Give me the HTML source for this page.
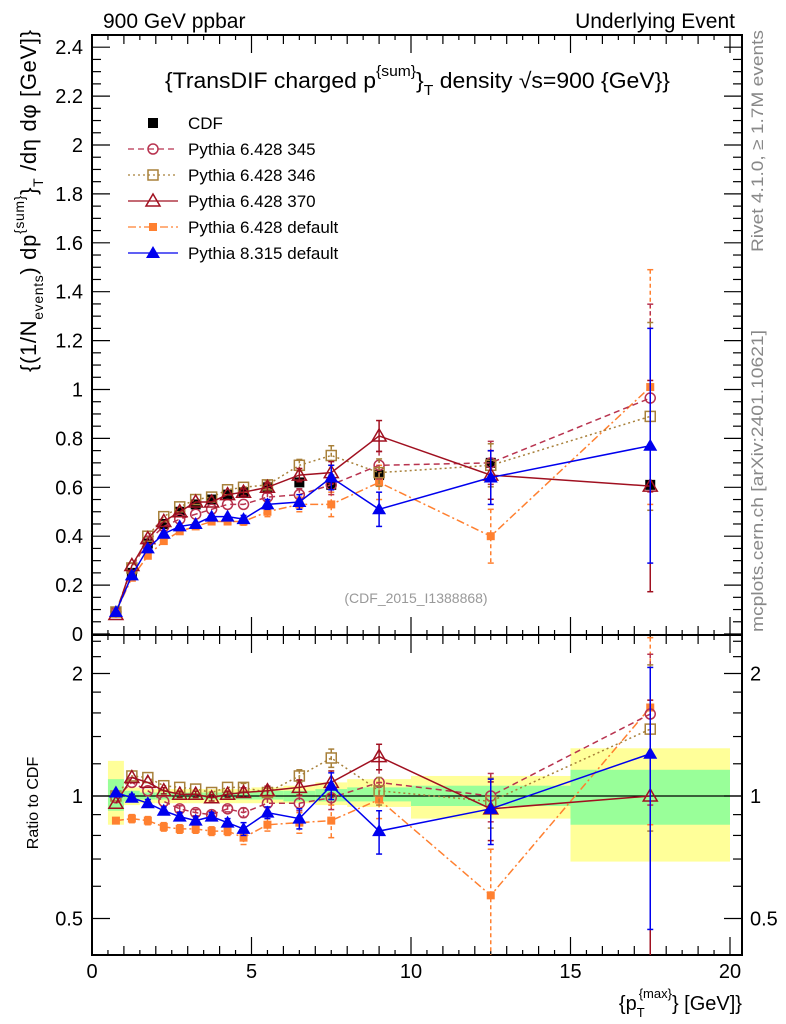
<!DOCTYPE html>
<html><head><meta charset="utf-8"><style>
body{margin:0;background:#fff;}
svg{display:block;font-family:"Liberation Sans",sans-serif;}
</style></head><body>
<svg id="chart" width="786" height="1024" viewBox="0 0 786 1024" xmlns="http://www.w3.org/2000/svg">
<text x="103" y="28" font-size="21">900 GeV ppbar</text>
<text x="735" y="28" font-size="21" text-anchor="end">Underlying Event</text>
<text x="165" y="88" font-size="22" textLength="505" lengthAdjust="spacingAndGlyphs">{TransDIF charged p<tspan dy="-12" font-size="15">{sum}</tspan><tspan dy="12">}</tspan><tspan dy="7" font-size="15">T</tspan><tspan dy="-7"> density √s=900 {GeV}}</tspan></text>
<text transform="translate(36,30) rotate(-90)" font-size="22" text-anchor="end" textLength="342" lengthAdjust="spacing">{(1/N<tspan dy="7" font-size="14">events</tspan><tspan dy="-7">) dp</tspan><tspan dy="-12" font-size="14">{sum}</tspan><tspan dy="12">}</tspan><tspan dy="7" font-size="14">T</tspan><tspan dy="-7"> /dη  dφ [GeV]}</tspan></text>
<text transform="translate(38,803) rotate(-90)" font-size="16" text-anchor="middle">Ratio to CDF</text>
<text x="742" y="1010" font-size="20" text-anchor="end">{p<tspan dy="7" font-size="13">T</tspan><tspan dy="-19" dx="-6" font-size="13">{max}</tspan><tspan dy="12">} [GeV]}</tspan></text>
<text transform="translate(763,30) rotate(-90)" font-size="17" fill="#888" text-anchor="end" textLength="222" lengthAdjust="spacingAndGlyphs">Rivet 4.1.0, ≥ 1.7M events</text>
<text transform="translate(763,632) rotate(-90)" font-size="17" fill="#888" textLength="302" lengthAdjust="spacingAndGlyphs">mcplots.cern.ch [arXiv:2401.10621]</text>
<text x="416" y="603" font-size="14" fill="#999" text-anchor="middle">(CDF_2015_I1388868)</text>
<g id="bands"></g><g id="axes"></g><g id="series"></g><g id="legend"></g>
</svg>
<script>
const xCenters=[0.75,1.25,1.75,2.25,2.75,3.25,3.75,4.25,4.75,5.5,6.5,7.5,9,12.5,17.5];
const xLow=[0.5,1,1.5,2,2.5,3,3.5,4,4.5,5,6,7,8,10,15];
const xHigh=[1,1.5,2,2.5,3,3.5,4,4.5,5,6,7,8,10,15,20];
const cdfVals=[0.09,0.25,0.37,0.45,0.50,0.53,0.55,0.57,0.58,0.60,0.62,0.61,0.65,0.70,0.61];
const bandYellowLo=[0.85,0.95,0.96,0.96,0.96,0.96,0.96,0.96,0.96,0.96,0.96,0.95,0.94,0.88,0.69];
const bandYellowHi=[1.22,1.05,1.04,1.04,1.04,1.04,1.04,1.04,1.04,1.05,1.06,1.08,1.1,1.12,1.31];
const bandGreenLo=[0.92,0.97,0.98,0.98,0.98,0.98,0.98,0.98,0.98,0.98,0.97,0.97,0.97,0.945,0.85];
const bandGreenHi=[1.1,1.03,1.02,1.02,1.02,1.02,1.02,1.02,1.02,1.03,1.03,1.04,1.05,1.06,1.16];
const p345=[0.09,0.27,0.38,0.44,0.47,0.49,0.51,0.53,0.53,0.56,0.57,0.61,0.69,0.70,0.965];
const p346=[0.09,0.27,0.40,0.48,0.52,0.55,0.56,0.59,0.60,0.61,0.69,0.73,0.66,0.69,0.89];
const p370=[0.08,0.28,0.39,0.46,0.50,0.54,0.54,0.57,0.58,0.60,0.65,0.66,0.81,0.65,0.605];
const pDef=[0.09,0.23,0.32,0.38,0.42,0.44,0.46,0.46,0.46,0.50,0.53,0.53,0.62,0.40,1.01];
const p8=[0.09,0.24,0.35,0.41,0.44,0.45,0.48,0.48,0.47,0.53,0.54,0.64,0.51,0.64,0.77];
const errs=[0.005,0.01,0.01,0.01,0.01,0.01,0.01,0.01,0.015,0.02,0.03,0.05,0.07,0.11,0.48];
const r345=[0.99,1.08,1.03,0.97,0.93,0.91,0.90,0.93,0.91,0.96,0.96,0.99,1.08,1.0,1.59];
const r346=[1.0,1.12,1.11,1.06,1.05,1.04,1.02,1.05,1.05,1.02,1.12,1.24,1.03,0.97,1.46];
const r370=[0.96,1.11,1.08,1.03,1.01,1.01,0.99,1.01,1.02,1.03,1.05,1.08,1.25,0.93,1.0];
const rDef=[0.87,0.88,0.87,0.84,0.83,0.83,0.82,0.82,0.79,0.85,0.86,0.87,0.98,0.57,1.65];
const r8=[1.02,0.99,0.96,0.92,0.89,0.87,0.89,0.86,0.83,0.91,0.88,1.06,0.82,0.93,1.27];
const ratioErrs=[0.01,0.02,0.02,0.02,0.02,0.02,0.02,0.02,0.03,0.03,0.05,0.08,0.1,0.17,0.8];
const yTicks=[0,0.2,0.4,0.6,0.8,1,1.2,1.4,1.6,1.8,2,2.2,2.4];
const yTickLabels=["0","0.2","0.4","0.6","0.8","1","1.2","1.4","1.6","1.8","2","2.2","2.4"];
const xTicks=[0,5,10,15,20];
const rTicks=[0.5,1,2];

const NS="http://www.w3.org/2000/svg";
const L=92,R=742,T=35,MB=635,RB=955;
const X=v=>92+v*31.9;
const Y=v=>634-v*244.5;
const RY=v=>796-Math.log2(v)*122.5;
function mk(tag,attrs,parent){const e=document.createElementNS(NS,tag);for(const k in attrs)e.setAttribute(k,attrs[k]);parent.appendChild(e);return e;}
const bands=document.getElementById('bands'),axes=document.getElementById('axes'),ser=document.getElementById('series'),leg=document.getElementById('legend');
const clipD=mk('defs',{},bands);
const c1=mk('clipPath',{id:'cm'},clipD);mk('rect',{x:L,y:T,width:R-L,height:MB-T},c1);
const c2=mk('clipPath',{id:'cr'},clipD);mk('rect',{x:L,y:MB,width:R-L,height:RB-MB},c2);
xLow.forEach((lo,i)=>{
 const y1=mk('rect',{x:X(lo),y:RY(bandYellowHi[i]),width:X(xHigh[i])-X(lo),height:RY(bandYellowLo[i])-RY(bandYellowHi[i]),fill:'#ffff99'},bands);
 
 
 const g1=mk('rect',{x:X(lo),y:RY(bandGreenHi[i]),width:X(xHigh[i])-X(lo),height:RY(bandGreenLo[i])-RY(bandGreenHi[i]),fill:'#99ff99'},bands);
 
 
});
mk('line',{x1:L,x2:R,y1:RY(1),y2:RY(1),stroke:'#000','stroke-width':1.3},bands);
const f1=mk('rect',{x:L,y:T,width:R-L,height:MB-T,fill:'none',stroke:'#000','stroke-width':2},axes);


const f2=mk('rect',{x:L,y:MB,width:R-L,height:RB-MB,fill:'none',stroke:'#000','stroke-width':2},axes);


for(let v=0;v<=20.3;v+=0.5){const maj=Math.abs(v%5)<1e-9,mid=Math.abs(v%1)<1e-9;const len=maj?18:(mid?9:5);
 [[T,1],[MB,-1],[MB,1],[RB,-1]].forEach(([y,d])=>mk('line',{x1:X(v),x2:X(v),y1:y,y2:y+d*len,stroke:'#000','stroke-width':1.2},axes));}
xTicks.forEach(v=>{const t=mk('text',{x:X(v),y:978,'font-size':20,'text-anchor':'middle'},axes);t.textContent=String(v);
 
 });
for(let v=0;v<=2.45;v+=0.05){const maj=Math.abs(v/0.2-Math.round(v/0.2))<1e-6;const len=maj?18:9;
 mk('line',{x1:L,x2:L+len,y1:Y(v),y2:Y(v),stroke:'#000','stroke-width':1.2},axes);
 mk('line',{x1:R,x2:R-len,y1:Y(v),y2:Y(v),stroke:'#000','stroke-width':1.2},axes);}
yTicks.forEach((v,i)=>{const t=mk('text',{x:83,y:Y(v)+7,'font-size':20,'text-anchor':'end'},axes);t.textContent=yTickLabels[i];
 
 });
const rMinor=[0.4,0.5,0.6,0.7,0.8,0.9,1,1.2,1.4,1.6,1.8,2,2.2,2.4];
rMinor.forEach(v=>{const y=RY(v);if(y<MB||y>RB)return;const maj=rTicks.includes(v);const len=maj?18:9;
 mk('line',{x1:L,x2:L+len,y1:y,y2:y,stroke:'#000','stroke-width':1.2},axes);
 mk('line',{x1:R,x2:R-len,y1:y,y2:y,stroke:'#000','stroke-width':1.2},axes);});
rTicks.forEach(v=>{const lbl=v===0.5?'0.5':String(v);
 const t=mk('text',{x:83,y:RY(v)+7,'font-size':20,'text-anchor':'end'},axes);t.textContent=lbl;
 
 
 const t2=mk('text',{x:750,y:RY(v)+7,'font-size':20},axes);t2.textContent=lbl;
 
 });
function marker(kind,color,x,y,parent){
 const s=kind;
 if(s==='fsq')return mk('rect',{x:x-5,y:y-5,width:10,height:10,fill:color},parent);
 if(s==='fsqs')return mk('rect',{x:x-4,y:y-4,width:8,height:8,fill:color},parent);
 if(s==='osq')return mk('rect',{x:x-5,y:y-5,width:10,height:10,fill:'none',stroke:color,'stroke-width':1.5},parent);
 if(s==='oc')return mk('circle',{cx:x,cy:y,r:5,fill:'none',stroke:color,'stroke-width':1.5},parent);
 if(s==='otri')return mk('polygon',{points:`${x},${y-7} ${x-7},${y+5} ${x+7},${y+5}`,fill:'none',stroke:color,'stroke-width':1.5},parent);
 if(s==='ftri')return mk('polygon',{points:`${x},${y-7} ${x-7},${y+5} ${x+7},${y+5}`,fill:color},parent);
}
const seriesDefs=[
 {name:'pythia-6428-default',label:'Pythia 6.428 default',main:pDef,ratio:rDef,color:'#ff8030',dash:'8,3,2,3',mk:'fsqs',ef:1},
 {name:'pythia-6428-345',label:'Pythia 6.428 345',main:p345,ratio:r345,color:'#b8334f',dash:'6,4',mk:'oc',ef:0.8},
 {name:'pythia-6428-346',label:'Pythia 6.428 346',main:p346,ratio:r346,color:'#a8803a',dash:'2,3',mk:'osq',ef:0.8},
 {name:'pythia-6428-370',label:'Pythia 6.428 370',main:p370,ratio:r370,color:'#a01020',dash:'',mk:'otri',ef:0.9},
 {name:'pythia-8315-default',label:'Pythia 8.315 default',main:p8,ratio:r8,color:'#0000ee',dash:'',mk:'ftri',ef:1}
];
function drawSeries(vals,errArr,ef,yf,clip,d,label){
 const g=mk('g',{'clip-path':`url(#${clip})`},ser);
 
 
 const pts=xCenters.map((x,i)=>`${X(x)},${yf(vals[i])}`).join(' ');
 const pl=mk('polyline',{points:pts,fill:'none',stroke:d.color,'stroke-width':1.5,'stroke-dasharray':d.dash},g);
 
 
 xCenters.forEach((x,i)=>{const e=errArr[i]*ef;
  const lo=label==='ratio'?Math.max(vals[i]-e,0.3):vals[i]-e;
  const y1=yf(vals[i]+e),y2=yf(lo);
  if(Math.abs(y2-y1)>6){mk('line',{x1:X(x),x2:X(x),y1:y1,y2:y2,stroke:d.color,'stroke-width':1.5,'stroke-dasharray':d.dash?'4,3':''},g);
   mk('line',{x1:X(x)-3,x2:X(x)+3,y1:y1,y2:y1,stroke:d.color,'stroke-width':1.5},g);
   mk('line',{x1:X(x)-3,x2:X(x)+3,y1:y2,y2:y2,stroke:d.color,'stroke-width':1.5},g);}
  const m=marker(d.mk,d.color,X(x),yf(vals[i]),g);
  
  
 });
}
const cg=mk('g',{},ser);


xCenters.forEach((x,i)=>{const e=errs[i]*0.3;
 if(e*244.5>4)mk('line',{x1:X(x),x2:X(x),y1:Y(cdfVals[i]+e),y2:Y(cdfVals[i]-e),stroke:'#000','stroke-width':1.5},cg);
 const m=marker('fsq','#000',X(x),Y(cdfVals[i]),cg);
 
 });
seriesDefs.forEach(d=>{drawSeries(d.main,errs,d.ef,Y,'cm',d,'main');drawSeries(d.ratio,ratioErrs,d.ef,RY,'cr',d,'ratio');});
const legItems=[{label:'CDF',color:'#000',mk:'fsq',dash:null}].concat(seriesDefs.slice(1,4),[seriesDefs[0],seriesDefs[4]]);
legItems.forEach((d,i)=>{const y=123+i*26;
 const g=mk('g',{},leg);
 
 
 if(d.dash!==null)mk('line',{x1:128,x2:178,y1:y,y2:y,stroke:d.color,'stroke-width':1.3,'stroke-dasharray':d.dash},g);
 marker(d.mk,d.color,153,y,g);
 const t=mk('text',{x:188,y:y+6,'font-size':17},g);t.textContent=d.label;});
</script>
</body></html>
